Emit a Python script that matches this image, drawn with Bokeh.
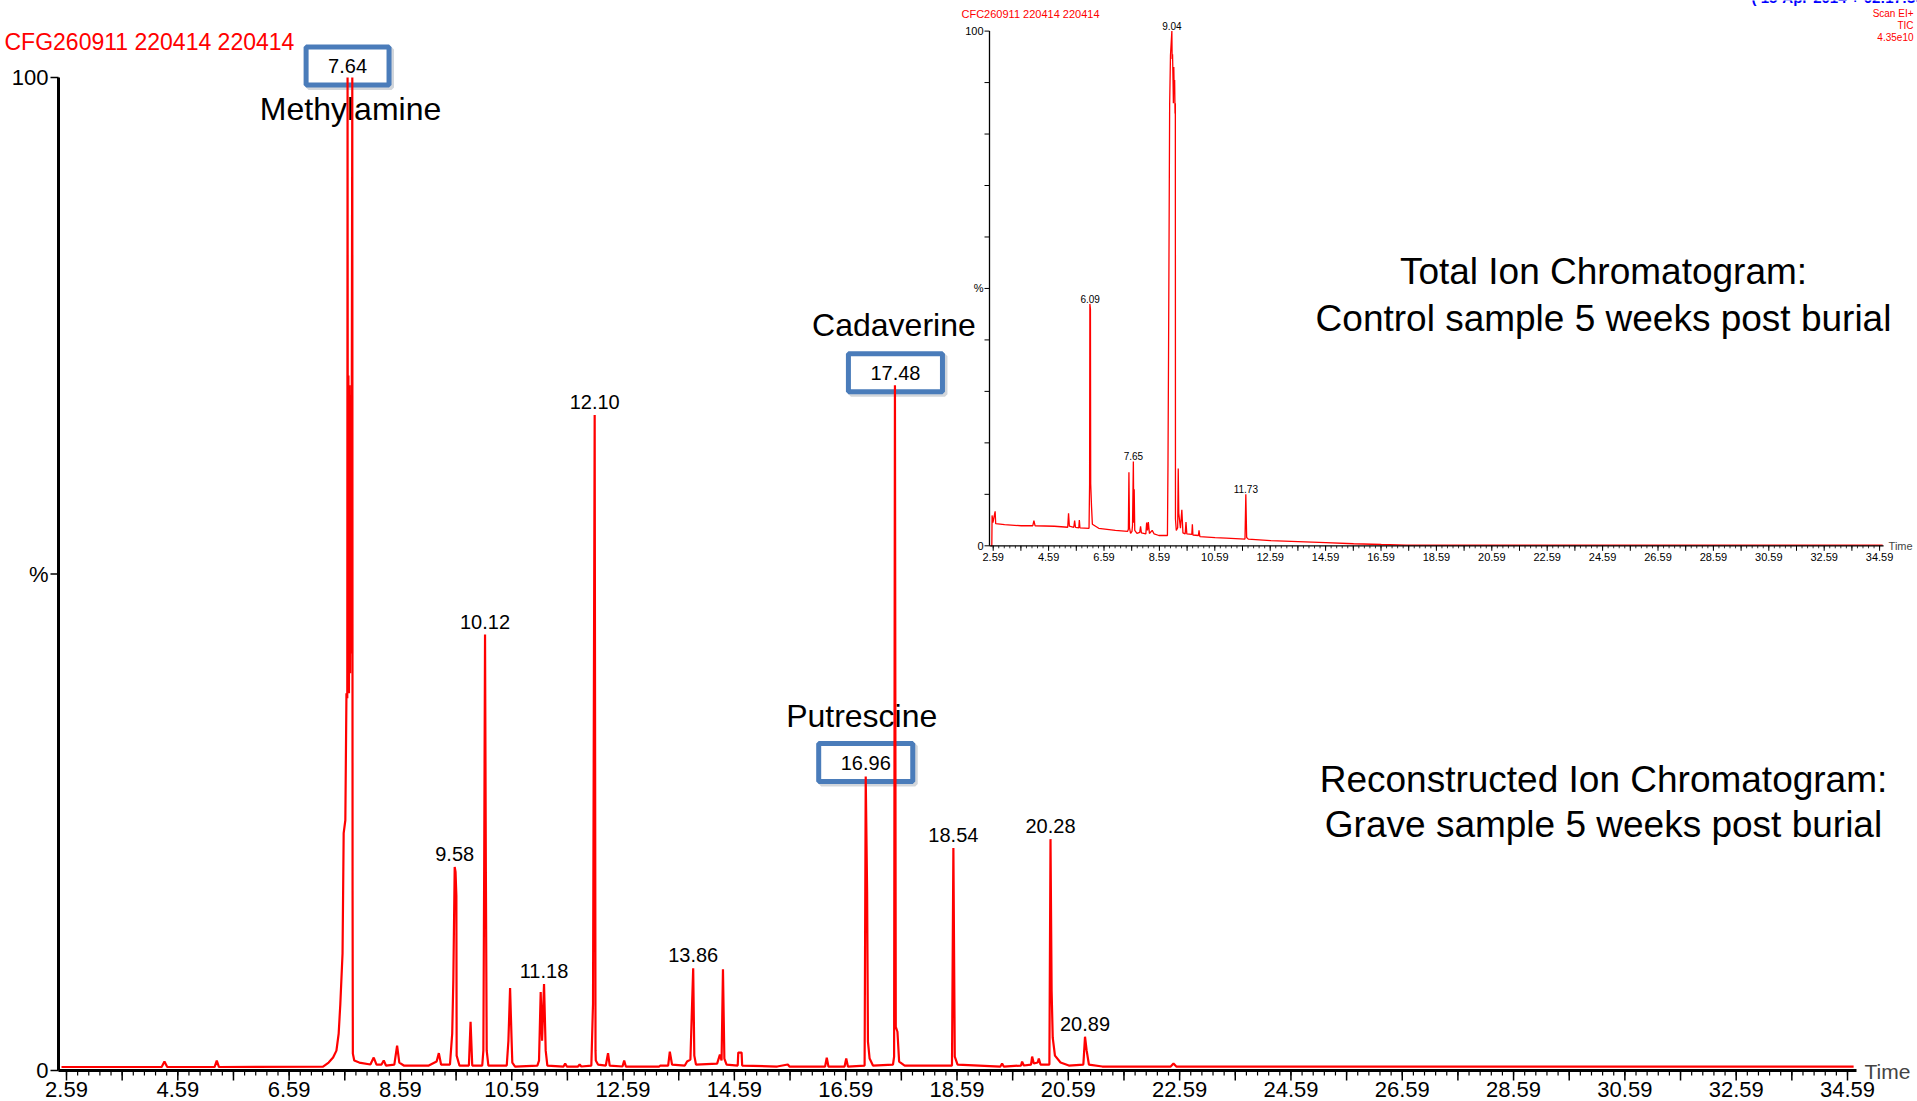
from bokeh.plotting import figure
from bokeh.models import Range1d, Label, LabelSet, ColumnDataSource
from bokeh.core.properties import value
from bokeh.embed import file_html
from bokeh.resources import INLINE

# ---------------- data ----------------
# Main chromatogram: grave sample (retention time in min, relative abundance %)
main_time = [2.50, 4.30, 4.35, 4.40, 5.25, 5.29, 5.33, 7.20, 7.30, 7.38, 7.44, 7.48, 7.51, 7.55,
             7.57, 7.60, 7.62, 7.635, 7.64, 7.645, 7.655, 7.665, 7.675, 7.685, 7.695, 7.705,
             7.715, 7.725, 7.73, 7.735, 7.76, 7.85, 8.05, 8.11, 8.16, 8.25, 8.29, 8.33, 8.48,
             8.53, 8.57, 8.65, 9.10, 9.24, 9.28, 9.32, 9.48, 9.52, 9.54, 9.565, 9.58, 9.595,
             9.60, 9.65, 9.82, 9.85, 9.88, 10.06, 10.08, 10.095, 10.11, 10.125, 10.14, 10.17,
             10.50, 10.53, 10.56, 10.585, 10.60, 10.65, 11.05, 11.08, 11.11, 11.135, 11.17,
             11.20, 11.23, 11.52, 11.55, 11.58, 11.78, 11.81, 11.84, 12.02, 12.05, 12.08,
             12.095, 12.10, 12.14, 12.28, 12.32, 12.35, 12.58, 12.61, 12.64, 13.24, 13.26,
             13.40, 13.43, 13.47, 13.70, 13.74, 13.80, 13.85, 13.87, 13.90, 14.28, 14.33,
             14.36, 14.385, 14.41, 14.45, 14.65, 14.66, 14.72, 14.73, 15.36, 15.55, 15.58,
             16.22, 16.25, 16.28, 16.57, 16.60, 16.63, 16.93, 16.95, 16.975, 16.99, 17.02,
             17.08, 17.44, 17.46, 17.475, 17.49, 17.52, 17.55, 17.65, 18.50, 18.525, 18.55,
             18.60, 19.37, 19.40, 19.43, 19.74, 19.76, 19.79, 19.92, 19.94, 19.97, 20.04,
             20.06, 20.09, 20.25, 20.27, 20.29, 20.31, 20.35, 20.45, 20.60, 20.86, 20.87,
             20.89, 20.92, 20.96, 21.20, 22.43, 22.48, 22.53, 34.70]
main_pct = [0.35, 0.35, 0.9, 0.35, 0.35, 1.0, 0.35, 0.4, 0.8, 1.3, 2.0, 3.7, 6.7, 11.8,
            23.9, 25.2, 38.0, 37.5, 100.0, 45.0, 70.0, 38.0, 69.0, 40.0, 68.0, 42.0,
            66.0, 100.0, 18.1, 1.7, 1.0, 0.8, 0.6, 1.3, 0.6, 0.6, 1.0, 0.5, 0.6,
            2.5, 0.8, 0.5, 0.5, 0.9, 1.75, 0.6, 0.6, 3.7, 9.0, 20.5, 20.0, 17.6,
            1.5, 0.5, 0.5, 4.9, 0.5, 0.5, 2.0, 20.8, 43.9, 20.0, 2.0, 0.5,
            0.5, 3.0, 8.3, 3.5, 0.8, 0.4, 0.5, 1.0, 7.9, 3.0, 8.7,
            2.0, 0.5, 0.4, 0.7, 0.4, 0.4, 0.6, 0.4, 0.5, 6.7, 66.0,
            2.0, 1.0, 0.6, 0.5, 1.75, 0.5, 0.4, 1.0, 0.4, 0.4, 0.5,
            0.5, 1.9, 0.6, 0.5, 0.9, 1.1, 10.3, 1.5, 0.6, 0.7, 1.6,
            1.0, 10.2, 1.2, 0.6, 0.5, 1.8, 1.8, 0.5, 0.4, 0.6, 0.4,
            0.4, 1.3, 0.4, 0.4, 1.2, 0.4, 0.5, 29.6, 18.0, 2.9, 1.2,
            0.5, 0.6, 1.4, 69.0, 4.4, 3.9, 0.9, 0.5, 0.5, 22.4, 1.4,
            0.6, 0.4, 0.7, 0.4, 0.5, 0.9, 0.5, 0.6, 1.4, 0.7, 0.8,
            1.2, 0.6, 0.6, 23.3, 8.0, 3.3, 1.5, 0.8, 0.5, 0.6, 1.5,
            3.4, 2.0, 0.6, 0.4, 0.4, 0.7, 0.4, 0.4]

main_peak_times = [9.565, 10.11, 11.17, 12.08, 13.85, 18.525, 20.27, 20.89]
main_peak_pct = [20.5, 43.9, 8.7, 66.0, 10.3, 22.4, 23.3, 3.4]
main_peak_labels = ["9.58", "10.12", "11.18", "12.10", "13.86", "18.54", "20.28", "20.89"]

compounds = ["Methylamine", "Cadaverine", "Putrescine"]
compound_rt_labels = ["7.64", "17.48", "16.96"]
compound_peak_times = [7.64, 17.475, 16.95]
compound_peak_pct = [100.0, 69.0, 29.6]

# Inset: total ion chromatogram of the control sample
inset_time = [2.50, 2.54, 2.55, 2.58, 2.62, 2.66, 2.68, 3.00, 3.60, 4.02, 4.06, 4.10, 4.80,
              5.28, 5.31, 5.34, 5.50, 5.53, 5.56, 5.68, 5.70, 5.72, 6.05, 6.07, 6.08, 6.10,
              6.11, 6.14, 6.17, 6.40, 7.00, 7.44, 7.47, 7.49, 7.51, 7.55, 7.60, 7.62, 7.65,
              7.665, 7.68, 7.70, 7.78, 7.88, 7.91, 7.94, 8.10, 8.13, 8.16, 8.19, 8.23, 8.33,
              8.40, 8.57, 8.88, 8.90, 8.92, 8.96, 8.99, 9.04, 9.05, 9.065, 9.08, 9.095, 9.11,
              9.125, 9.14, 9.155, 9.165, 9.17, 9.20, 9.25, 9.27, 9.29, 9.35, 9.40, 9.44, 9.52,
              9.55, 9.58, 9.76, 9.78, 9.80, 10.00, 10.02, 10.05, 10.60, 11.00, 11.68, 11.71,
              11.74, 11.80, 12.60, 13.60, 14.60, 15.60, 16.60, 17.50, 34.70]
inset_pct = [0.0, 0.0, 5.9, 4.5, 5.6, 6.7, 4.3, 4.1, 3.9, 3.9, 4.9, 3.9, 3.8,
             3.6, 6.3, 3.8, 3.6, 4.9, 3.6, 3.5, 5.0, 3.5, 3.4, 12.0, 47.0, 46.0,
             12.0, 7.6, 4.2, 3.4, 3.0, 2.8, 3.2, 14.3, 3.5, 2.4, 2.8, 4.0, 16.4,
             4.5, 11.0, 3.0, 2.4, 2.6, 3.8, 2.5, 2.3, 4.5, 3.0, 4.6, 2.4, 3.0,
             2.3, 2.0, 2.0, 16.0, 37.0, 85.6, 95.3, 100.0, 94.6, 95.5, 91.0, 86.0, 93.0,
             88.0, 90.5, 84.0, 86.0, 5.2, 3.0, 3.5, 15.0, 6.3, 3.4, 7.0, 2.5, 2.3,
             4.6, 2.3, 2.2, 4.2, 2.1, 2.0, 3.0, 1.8, 1.6, 1.5, 1.3, 10.0,
             1.6, 1.3, 1.0, 0.8, 0.6, 0.4, 0.25, 0.15, 0.15]

inset_peak_times = [6.09, 7.65, 9.04, 11.71]
inset_peak_pct = [47.0, 16.4, 100.0, 10.0]
inset_peak_labels = ["6.09", "7.65", "9.04", "11.73"]

x_tick_labels = ["2.59", "4.59", "6.59", "8.59", "10.59", "12.59", "14.59", "16.59", "18.59",
                 "20.59", "22.59", "24.59", "26.59", "28.59", "30.59", "32.59", "34.59"]
y_tick_values = [0, 50, 100]
y_tick_labels = ["0", "%", "100"]

main_title = "CFG260911 220414 220414"
inset_title = "CFC260911 220414 220414"
inset_info = ["Scan EI+", "TIC", "4.35e10"]
inset_caption = ["Total Ion Chromatogram:", "Control sample 5 weeks post burial"]
main_caption = ["Reconstructed Ion Chromatogram:", "Grave sample 5 weeks post burial"]

# ---------------- layout (canvas pixels) ----------------
W, H = 1917, 1101
FONT = "Liberation Sans"
RED = "#ff0000"
BOX_BLUE = "#4a7cba"


def span(v1, p1, v2, p2, lo, hi):
    k = (v2 - v1) / (p2 - p1)
    return v1 + (lo - p1) * k, v1 + (hi - p1) * k


# the plotting frame covers the whole canvas; both charts are mapped into it
mx = span(2.59, 66, 34.59, 1847, 0, W)
my = span(0, 1070, 100, 77, H, 0)
ix = span(2.59, 992.7, 34.59, 1879.1, 0, W)
iy = span(0, 545.3, 100, 30.6, H, 0)
MPX_MIN = (1847 - 66) / 32.0
MPX_PCT = (1070 - 77) / 100.0
IPX_MIN = (1879.1 - 992.7) / 32.0
IPX_PCT = (545.3 - 30.6) / 100.0

p = figure(width=W, height=H, output_backend="svg", toolbar_location=None,
           x_range=Range1d(*mx), y_range=Range1d(*my),
           x_axis_type=None, y_axis_type=None,
           min_border=0, min_border_left=0, min_border_right=0,
           min_border_top=0, min_border_bottom=0)
p.extra_x_ranges = {"ix": Range1d(*ix)}
p.extra_y_ranges = {"iy": Range1d(*iy)}
p.outline_line_color = None
p.grid.visible = False
p.background_fill_color = "white"
p.border_fill_color = "white"

lab_vals = [float(s) for s in x_tick_labels]
x_major = sorted(lab_vals + [round(v + 1, 2) for v in lab_vals[:-1]])
x_minor = [round(2.59 + 0.2 * k, 2) for k in range(161)]


def canvas_label(text, px, py, **kw):
    """Free text positioned in canvas pixels (anchored at the top-left corner)."""
    return Label(x=mx[0], y=my[1], x_offset=px, y_offset=-py, text=text,
                 text_font=FONT, **kw)


# ---- compound names and boxed retention times (drawn beneath the trace) ----
name_offsets = [(3, -31), (-1, 60), (-4, 61)]
box_offsets = [(0, 11.5), (0.5, 12.5), (0, 14)]
pad = dict(left=22, right=22, top=12, bottom=12)
for name, rt, t, h, (nx, ny), (bx, by) in zip(compounds, compound_rt_labels, compound_peak_times,
                                               compound_peak_pct, name_offsets, box_offsets):
    p.add_layout(Label(x=t, y=h, x_offset=nx, y_offset=ny, text=name, text_font=FONT,
                       text_font_size="32px", text_color="black", text_align="center",
                       text_baseline="middle", level="underlay"))
    p.add_layout(Label(x=t, y=h, x_offset=bx + 2.5, y_offset=by - 2.5, text=rt, text_font=FONT,
                       text_font_size="20px", text_color="rgba(0,0,0,0)", text_align="center",
                       text_baseline="middle", level="underlay",
                       border_line_color="#7f8a99", border_line_alpha=0.35, border_line_width=5,
                       padding=pad))
    p.add_layout(Label(x=t, y=h, x_offset=bx, y_offset=by, text=rt, text_font=FONT,
                       text_font_size="20px", text_color="black", text_align="center",
                       text_baseline="middle", level="underlay",
                       background_fill_color="white", border_line_color=BOX_BLUE,
                       border_line_width=5, padding=pad))

# ---- main trace ----
p.line(main_time, main_pct, line_color=RED, line_width=2.2)

# ---- main axes (drawn in data space) ----
MAX_X = 2.59 - 8 / MPX_MIN          # y-axis position
MX_END = 34.59 + 9 / MPX_MIN
p.segment(x0=[MAX_X, MAX_X], y0=[0, 0], x1=[MAX_X, MX_END], y1=[100, 0],
          line_color="black", line_width=3)
p.segment(x0=[MAX_X] * 3, y0=y_tick_values, x1=[MAX_X - 8 / MPX_MIN] * 3, y1=y_tick_values,
          line_color="black", line_width=1.5)
p.segment(x0=x_major, y0=[0] * len(x_major), x1=x_major, y1=[-10 / MPX_PCT] * len(x_major),
          line_color="black", line_width=1.5)
p.segment(x0=x_minor, y0=[0] * len(x_minor), x1=x_minor, y1=[-5 / MPX_PCT] * len(x_minor),
          line_color="black", line_width=1.2)
p.add_layout(LabelSet(x="t", y="h", text="s", y_offset=-19, text_align="center",
                      text_baseline="middle", text_font=value(FONT), text_font_size="22px",
                      text_color="black",
                      source=ColumnDataSource(dict(t=lab_vals, h=[0] * len(lab_vals),
                                                   s=x_tick_labels))))
p.add_layout(LabelSet(x="t", y="h", text="s", x_offset=-10, text_align="right",
                      text_baseline="middle", text_font=value(FONT), text_font_size="22px",
                      text_color="black",
                      source=ColumnDataSource(dict(t=[MAX_X] * 3, h=y_tick_values,
                                                   s=y_tick_labels))))
p.add_layout(Label(x=MX_END, y=0, x_offset=8, y_offset=-1, text="Time", text_font=FONT,
                   text_font_size="21px", text_baseline="middle", text_align="left"))

# ---- main peak labels ----
p.add_layout(LabelSet(x="t", y="h", text="s", y_offset=6, text_align="center",
                      text_baseline="bottom", text_font=value(FONT), text_font_size="20px",
                      text_color="black",
                      source=ColumnDataSource(dict(t=main_peak_times, h=main_peak_pct,
                                                   s=main_peak_labels))))
p.add_layout(canvas_label(main_title, 4, 41.6, text_font_size="23px", text_color=RED,
                          text_baseline="middle", text_align="left"))

# ---- inset ----
IAX = 2.59 - 3.7 / IPX_MIN
IXEND = 34.59 + 4 / IPX_MIN
rk = dict(x_range_name="ix", y_range_name="iy")
p.line(inset_time, inset_pct, line_color=RED, line_width=1.3, **rk)
p.segment(x0=[IAX, IAX], y0=[0, 0], x1=[IAX, IXEND], y1=[100, 0], line_color="black",
          line_width=1.3, **rk)
iy_ticks = list(range(0, 101, 10))
p.segment(x0=[IAX] * len(iy_ticks), y0=iy_ticks, x1=[IAX - 5 / IPX_MIN] * len(iy_ticks),
          y1=iy_ticks, line_color="black", line_width=1, **rk)
p.segment(x0=x_major, y0=[0] * len(x_major), x1=x_major, y1=[-5 / IPX_PCT] * len(x_major),
          line_color="black", line_width=1, **rk)
p.segment(x0=x_minor, y0=[0] * len(x_minor), x1=x_minor, y1=[-2.5 / IPX_PCT] * len(x_minor),
          line_color="black", line_width=0.8, **rk)

p.add_layout(LabelSet(x="t", y="h", text="s", y_offset=-11, text_align="center",
                      text_baseline="middle", text_font=value(FONT), text_font_size="11px",
                      text_color="black", **rk,
                      source=ColumnDataSource(dict(t=lab_vals, h=[0] * len(lab_vals),
                                                   s=x_tick_labels))))
p.add_layout(LabelSet(x="t", y="h", text="s", x_offset=-6, text_align="right",
                      text_baseline="middle", text_font=value(FONT), text_font_size="11px",
                      text_color="black", **rk,
                      source=ColumnDataSource(dict(t=[IAX] * 3, h=y_tick_values,
                                                   s=y_tick_labels))))
p.add_layout(LabelSet(x="t", y="h", text="s", y_offset=1, text_align="center",
                      text_baseline="bottom", text_font=value(FONT), text_font_size="10px",
                      text_color="black", **rk,
                      source=ColumnDataSource(dict(t=inset_peak_times, h=inset_peak_pct,
                                                   s=inset_peak_labels))))
p.add_layout(Label(x=IXEND, y=0, x_offset=5, text="Time", text_font=FONT,
                   text_font_size="11px", text_baseline="middle", text_align="left", **rk))
p.add_layout(canvas_label(inset_title, 961, 13.4, text_font_size="11px", text_color=RED,
                          text_baseline="middle", text_align="left"))

for s, py in zip(inset_info, [13.4, 24.5, 36.7]):
    p.add_layout(canvas_label(s, 1913, py, text_font_size="10px", text_color=RED,
                              text_baseline="middle", text_align="right"))
p.add_layout(canvas_label("( 15-Apr-2014 + 02:17:36", 1751, 5, text_font_size="15px",
                          text_color="#0000ff", text_font_style="bold",
                          text_baseline="bottom", text_align="left"))

for s, py in zip(inset_caption, [271.4, 317.9]):
    p.add_layout(canvas_label(s, 1603, py, text_font_size="37px", text_color="black",
                              text_baseline="middle", text_align="center"))
for s, py in zip(main_caption, [778.8, 824.0]):
    p.add_layout(canvas_label(s, 1603, py, text_font_size="37px", text_color="black",
                              text_baseline="middle", text_align="center"))

open("out.html", "w").write(file_html(p, INLINE))
